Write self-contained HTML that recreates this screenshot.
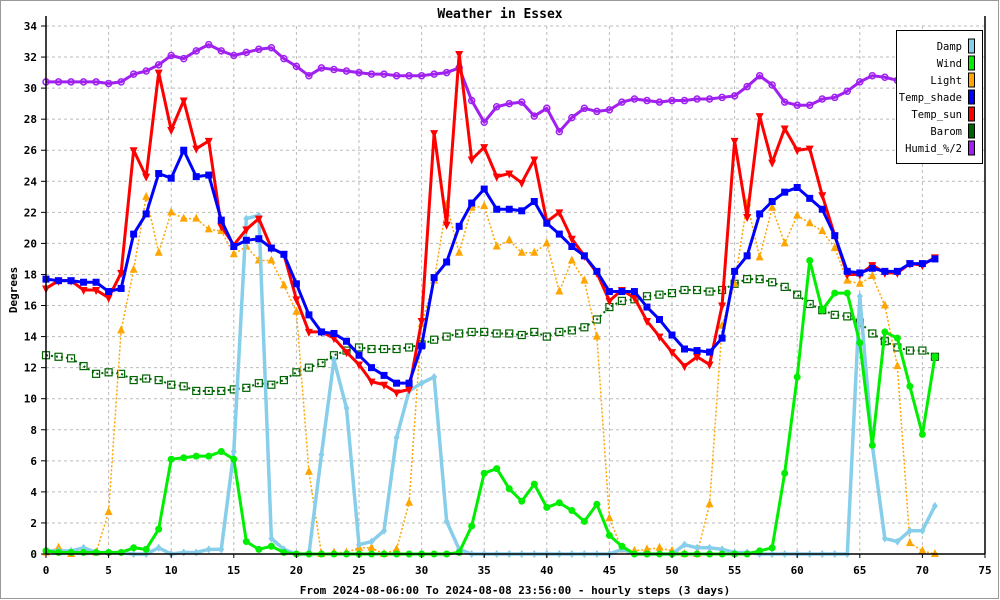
<!DOCTYPE html>
<html><head><meta charset="utf-8"><style>
html,body{margin:0;padding:0;background:#fff}
svg{display:block;font-family:"DejaVu Sans Mono","Liberation Mono",monospace}
</style></head><body>
<svg id="chart" width="1000" height="600" viewBox="0 0 1000 600" xmlns="http://www.w3.org/2000/svg">
<rect x="0.5" y="0.5" width="998" height="598" fill="#fff" stroke="#999"/>
<text x="500" y="18" text-anchor="middle" font-size="13" font-weight="bold" fill="#000">Weather in Essex</text>
<g id="grid"></g>
<g id="series"></g>
<g id="axes"></g>
<text x="17" y="290" transform="rotate(-90 17 290)" text-anchor="middle" font-size="11" font-weight="bold">Degrees</text>
<text x="515" y="594" text-anchor="middle" font-size="11" font-weight="bold">From 2024-08-06:00 To 2024-08-08 23:56:00 - hourly steps (3 days)</text>
<g id="legend"></g>
</svg>
<script>
const xTicks = [0,5,10,15,20,25,30,35,40,45,50,55,60,65,70,75];
const yTicks = [0,2,4,6,8,10,12,14,16,18,20,22,24,26,28,30,32,34];
const damp = [0.2,0.2,0.2,0.4,0.1,0.1,0.1,0,0,0.4,0,0.1,0.1,0.3,0.3,6.6,21.6,21.8,1.0,0.3,0,0,6.4,12.5,9.4,0.6,0.8,1.5,7.5,10.5,11.0,11.4,2.1,0.3,0,0,0,0,0,0,0,0,0,0,0,0,0.3,0,0,0,0,0.6,0.4,0.4,0.3,0.1,0.1,0,0,0,0,0,0,0,0,16.6,7.0,1.0,0.8,1.5,1.5,3.1];
const wind = [0.2,0.1,0.1,0.1,0.1,0.1,0.1,0.4,0.3,1.6,6.1,6.2,6.3,6.3,6.6,6.1,0.8,0.3,0.5,0.1,0,0,0,0,0,0,0,0,0,0,0,0,0,0.1,1.8,5.2,5.5,4.2,3.4,4.5,3.0,3.3,2.8,2.1,3.2,1.2,0.5,0,0,0,0,0,0,0,0,0,0,0.2,0.4,5.2,11.4,18.9,15.7,16.8,16.8,13.6,7.0,14.3,13.9,10.8,7.7,12.7];
const light = [0.1,0.4,0,0.2,0.1,2.7,14.4,18.3,23.0,19.4,22.0,21.6,21.6,20.9,20.8,19.3,19.8,18.9,18.9,17.3,15.6,5.3,0,0.1,0.1,0.4,0.4,0,0.3,3.3,14.8,17.6,22.5,19.4,22.3,22.4,19.8,20.2,19.4,19.4,20.0,16.9,18.9,17.6,14.0,2.3,0.3,0.2,0.3,0.4,0.2,0,0,3.2,14.7,17.4,22.6,19.1,22.3,20.0,21.8,21.3,20.8,19.7,17.6,17.4,17.9,16.0,12.1,0.7,0.2,0];
const tempShade = [17.7,17.6,17.6,17.5,17.5,16.9,17.1,20.6,21.9,24.5,24.2,26.0,24.3,24.4,21.5,19.8,20.2,20.3,19.7,19.3,17.4,15.4,14.3,14.2,13.7,12.8,12.0,11.5,11.0,11.0,13.4,17.8,18.8,21.1,22.6,23.5,22.2,22.2,22.1,22.7,21.3,20.6,19.8,19.2,18.2,16.9,16.9,16.9,15.9,15.1,14.1,13.2,13.1,13.0,13.9,18.2,19.2,21.9,22.7,23.3,23.6,22.9,22.2,20.5,18.2,18.1,18.4,18.2,18.2,18.7,18.7,19.0];
const tempSun = [17.1,17.6,17.6,17.0,17.0,16.5,18.1,26.0,24.3,31.0,27.3,29.2,26.1,26.6,21.1,19.9,20.9,21.6,19.7,19.3,16.4,14.3,14.3,13.9,13.0,12.2,11.1,10.9,10.4,10.6,15.0,27.1,21.2,32.2,25.4,26.2,24.3,24.5,23.9,25.4,21.4,22.0,20.3,19.2,18.1,16.3,17.0,16.5,15.0,14.0,13.0,12.1,12.7,12.2,16.0,26.6,21.7,28.2,25.2,27.4,26.0,26.1,23.1,20.5,18.0,18.0,18.6,18.1,18.1,18.7,18.6,19.1];
const barom = [12.8,12.7,12.6,12.1,11.6,11.7,11.6,11.2,11.3,11.2,10.9,10.8,10.5,10.5,10.5,10.6,10.7,11.0,10.9,11.2,11.7,12.0,12.3,12.8,13.1,13.3,13.2,13.2,13.2,13.3,13.5,13.8,14.0,14.2,14.3,14.3,14.2,14.2,14.1,14.3,14.0,14.3,14.4,14.6,15.1,15.9,16.3,16.4,16.6,16.7,16.8,17.0,17.0,16.9,17.0,17.4,17.7,17.7,17.5,17.2,16.7,16.1,15.7,15.4,15.3,14.9,14.2,13.7,13.3,13.1,13.1,12.7];
const humid = [30.4,30.4,30.4,30.4,30.4,30.3,30.4,30.9,31.1,31.5,32.1,31.9,32.4,32.8,32.4,32.1,32.3,32.5,32.6,31.9,31.4,30.8,31.3,31.2,31.1,31.0,30.9,30.9,30.8,30.8,30.8,30.9,31.0,31.3,29.2,27.8,28.8,29.0,29.1,28.2,28.7,27.2,28.1,28.7,28.5,28.6,29.1,29.3,29.2,29.1,29.2,29.2,29.3,29.3,29.4,29.5,30.1,30.8,30.2,29.1,28.9,28.9,29.3,29.4,29.8,30.4,30.8,30.7,30.5,30.6,30.7,30.6];
const seriesNames = ["Damp","Wind","Light","Temp_shade","Temp_sun","Barom","Humid_%/2"];
const seriesColors = ["#87ceeb","#00ee00","#ffa500","#0000ff","#ff0000","#006400","#a020f0"];

const NS="http://www.w3.org/2000/svg";
const X0=46,X1=985,Y0=554,Y1=26;
const xs=i=>X0+(X1-X0)*i/75;
const ys=v=>Y0-(Y0-Y1)*v/34;
function mk(tag,attrs,parent){const e=document.createElementNS(NS,tag);for(const k in attrs)e.setAttribute(k,attrs[k]);parent.appendChild(e);return e;}
const grid=document.getElementById('grid'),axes=document.getElementById('axes'),ser=document.getElementById('series'),leg=document.getElementById('legend');
xTicks.forEach(t=>{
  if(t>0&&t<75){const l=mk('line',{x1:xs(t),x2:xs(t),y1:Y1,y2:Y0,stroke:'#bbb','stroke-dasharray':'3,3'},grid);
  
  }
  const tl=mk('line',{x1:xs(t),x2:xs(t),y1:Y0,y2:Y0+4,stroke:'#000'},axes);
  
  
  const tx=mk('text',{x:xs(t),y:Y0+20,'text-anchor':'middle','font-size':'11','font-weight':'bold'},axes);
  tx.textContent=t;
  
  
});
yTicks.forEach(t=>{
  if(t>0){const l=mk('line',{x1:X0,x2:X1,y1:ys(t),y2:ys(t),stroke:'#bbb','stroke-dasharray':'3,3'},grid);
  
  }
  const tl=mk('line',{x1:X0-5,x2:X0,y1:ys(t),y2:ys(t),stroke:'#000'},axes);
  
  
  const tx=mk('text',{x:X0-9,y:ys(t)+4,'text-anchor':'end','font-size':'11','font-weight':'bold'},axes);
  tx.textContent=t;
  
  
});
const ax1=mk('line',{x1:X0,x2:X0,y1:Y1-10,y2:Y0,stroke:'#000','stroke-width':1.5},axes);


const ax2=mk('line',{x1:X0,x2:X1,y1:Y0,y2:Y0,stroke:'#000','stroke-width':1.5},axes);


const ax3=mk('line',{x1:X1,x2:X1,y1:Y1-10,y2:Y0,stroke:'#000','stroke-width':1.5},axes);



function marker(kind,x,y,c,g){
  let e;
  if(kind==='circle')e=mk('circle',{cx:x,cy:y,r:3.5,fill:c},g);
  else if(kind==='sq')e=mk('rect',{x:x-3.5,y:y-3.5,width:7,height:7,fill:c},g);
  else if(kind==='hsq')e=mk('rect',{x:x-3.5,y:y-3.5,width:7,height:7,fill:'none',stroke:c,'stroke-width':1.2},g);
  else if(kind==='up')e=mk('polygon',{points:`${x},${y-5} ${x-4},${y+3} ${x+4},${y+3}`,fill:c},g);
  else if(kind==='down')e=mk('polygon',{points:`${x},${y+5} ${x-4},${y-3} ${x+4},${y-3}`,fill:c},g);
  else if(kind==='diam')e=mk('polygon',{points:`${x},${y-4} ${x-3},${y} ${x},${y+4} ${x+3},${y}`,fill:c},g);
  else e=mk('circle',{cx:x,cy:y,r:3,fill:'none',stroke:c,'stroke-width':1.5},g);
  
  
}
function draw(data,name,c,w,dash,kind){
  const g=mk('g',{},ser);
  
  
  const p=mk('polyline',{points:data.map((v,i)=>xs(i)+','+ys(v)).join(' '),fill:'none',stroke:c,'stroke-width':w,'stroke-linejoin':'round'},g);
  if(dash)p.setAttribute('stroke-dasharray',dash);
  
  
  data.forEach((v,i)=>marker(kind,xs(i),ys(v),c,g));
}
draw(humid,'humid','#a020f0',3,null,'hc');
draw(barom,'barom','#006400',2,'2,3','hsq');
draw(light,'light','#ffa500',1.5,'2,2','up');
draw(damp,'damp','#87ceeb',3.5,null,'diam');
draw(wind,'wind','#00ee00',3,null,'circle');
draw(tempSun,'temp-sun','#ff0000',3,null,'down');
draw(tempShade,'temp-shade','#0000ff',3,null,'sq');

const lb=mk('rect',{x:896.5,y:30.5,width:86,height:133,fill:'#fff',stroke:'#000'},leg);


seriesNames.forEach((n,i)=>{
  const y=46+i*17;
  const t=mk('text',{x:962,y:y+4,'text-anchor':'end','font-size':'10.5'},leg);
  t.textContent=n;
  
  
  const r=mk('rect',{x:968.5,y:y-7,width:6,height:14,fill:seriesColors[i],stroke:'#000'},leg);
  
  
});
</script>
</body></html>
